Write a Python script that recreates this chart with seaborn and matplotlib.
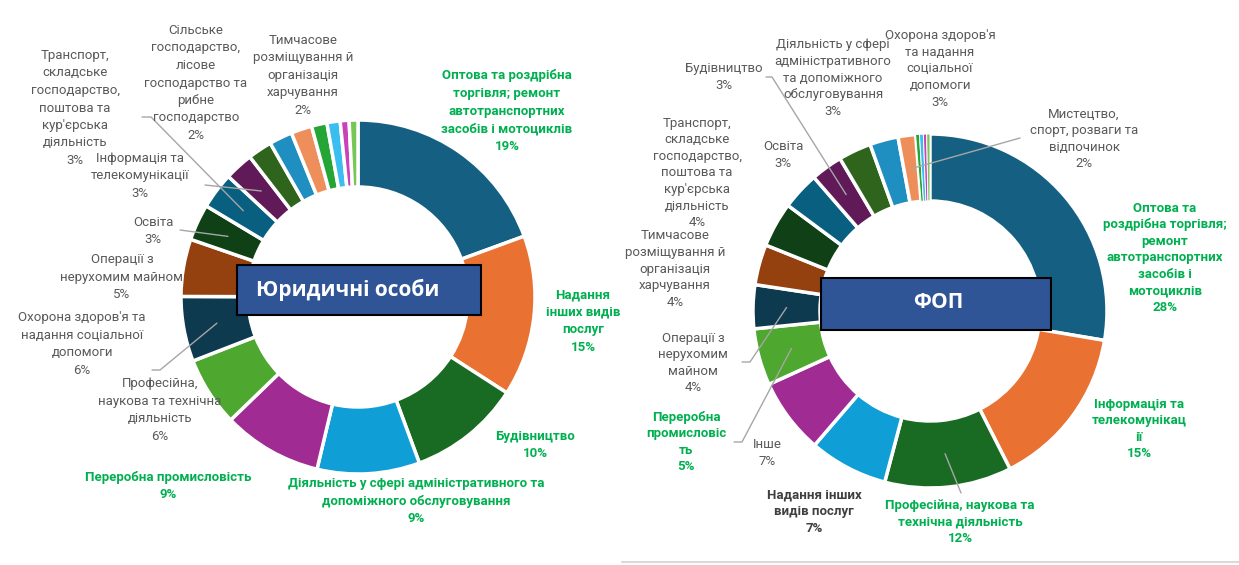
import numpy as np
import matplotlib
matplotlib.use("Agg")
import matplotlib.pyplot as plt
from matplotlib.patches import Rectangle
import seaborn as sns

W, H = 1239, 565

# Юридичні особи: clockwise from the top
legal_names = ["Оптова та роздрібна\nторгівля; ремонт\nавтотранспортних\nзасобів і мотоциклів",
               "Надання\nінших видів\nпослуг",
               "Будівництво",
               "Діяльність у сфері адміністративного та\nдопоміжного обслуговування",
               "Переробна промисловість",
               "Професійна,\nнаукова та технічна\nдіяльність",
               "Охорона здоров'я та\nнадання соціальної\nдопомоги",
               "Операції з\nнерухомим майном",
               "Освіта",
               "Транспорт,\nскладське\nгосподарство,\nпоштова та\nкур'єрська\nдіяльність",
               "Інформація та\nтелекомунікації",
               "Сільське\nгосподарство,\nлісове\nгосподарство та\nрибне\nгосподарство",
               "Тимчасове\nрозміщування й\nорганізація\nхарчування",
               "Мистецтво, спорт, розваги та відпочинок",
               "Фінансова та страхова діяльність",
               "Постачання електроенергії",
               "Добувна промисловість",
               "Інше"]
legal_values = [19.3, 14.6, 10.2, 9.3, 9.0, 6.3, 5.9, 5.2, 3.3, 3.3, 2.6, 2.2, 2.1,
                1.9, 1.4, 1.2, 0.8, 0.8]
legal_kind = ["g", "g", "g", "g", "g", "n", "n", "n", "n", "n", "n", "n", "n",
              None, None, None, None, None]

# ФОП: clockwise from the top
fop_names = ["Оптова та\nроздрібна торгівля;\nремонт\nавтотранспортних\nзасобів і\nмотоциклів",
             "Інформація та\nтелекомунікац\nії",
             "Професійна, наукова та\nтехнічна діяльність",
             "Надання інших\nвидів послуг",
             "Інше",
             "Переробна\nпромисловіс\nть",
             "Операції з\nнерухомим\nмайном",
             "Тимчасове\nрозміщування й\nорганізація\nхарчування",
             "Транспорт,\nскладське\nгосподарство,\nпоштова та\nкур'єрська\nдіяльність",
             "Освіта",
             "Будівництво",
             "Діяльність у сфері\nадміністративного\nта допоміжного\nобслуговування",
             "Охорона здоров'я\nта надання\nсоціальної\nдопомоги",
             "Мистецтво,\nспорт, розваги та\nвідпочинок",
             "Сільське господарство",
             "Фінансова та страхова діяльність",
             "Постачання електроенергії",
             "Добувна промисловість"]
fop_values = [27.7, 14.9, 11.6, 7.2, 6.9, 5.2, 4.0, 3.7, 4.1, 3.45, 2.9, 3.0, 2.6, 1.6,
              0.35, 0.35, 0.3, 0.3]
fop_kind = ["g", "g", "g", "d", "n", "g", "n", "n", "n", "n", "n", "n", "n", "n",
            None, None, None, None]

palette = ["#156082", "#E97132", "#196B24", "#0F9ED5", "#A02B93", "#4EA72E",
           "#0D3A4E", "#94400F", "#0F4016", "#095F80", "#601A58", "#2F641C",
           "#1F8EC1", "#EE8F5B", "#24A536", "#3ABEF0", "#C842B8", "#79C658"]

# label centres in pixel coords (x, y from top)
legal_pos = {0: (507, 111), 1: (583, 321), 2: (535, 445), 3: (416, 501), 4: (168, 486),
             5: (160, 410), 6: (82, 344), 7: (122, 277), 8: (153, 231), 9: (75, 108),
             10: (140, 176), 11: (196, 83), 12: (303, 75)}
fop_pos = {0: (1165, 258), 1: (1139, 429), 2: (960, 522), 3: (814, 512), 4: (767, 453),
           5: (686, 442), 6: (693, 363), 7: (675, 269), 8: (697, 173), 9: (783, 155),
           10: (724, 77), 11: (833, 78), 12: (940, 69), 13: (1084, 139)}
# leader lines: slice index -> list of points before the wedge
legal_leaders = {9: [(142, 117), (151, 117)], 10: [(205, 185)], 8: [(180, 230)],
                 6: [(152, 370), (160, 370)]}
fop_leaders = {10: [(766, 77), (772, 77)], 13: [(1020, 138)], 6: [(742, 362), (750, 362)],
               5: [(734, 442), (742, 442)], 2: [(961, 493)]}

COLORS = {"g": "#00B050", "n": "#595959", "d": "#404040"}

sns.set_theme(style="white")
plt.rcParams['font.family'] = ['Roboto', 'DejaVu Sans']

fig = plt.figure(figsize=(W / 100, H / 100), dpi=100)
ax = fig.add_axes([0, 0, 1, 1])

R, RW = 177, 67


def donut(values, names, kinds, center, pos, leaders, spacing):
    cx, cy = center
    wedges, _ = ax.pie(values, colors=palette[:len(values)], startangle=90,
                       counterclock=False, radius=R, center=(cx, H - cy),
                       wedgeprops=dict(width=RW, edgecolor="white", linewidth=2.5))
    for w in wedges:
        # thin white gaps on the tiny slices so they stay visible
        if abs(w.theta2 - w.theta1) < 2:
            w.set_linewidth(0.7)
    total = sum(values)
    for i, (p, name, kind) in enumerate(zip(values, names, kinds)):
        if kind is None or i not in pos:
            continue
        pct = int(np.floor(p / total * 100 + 0.5))
        x, y = pos[i]
        ax.text(x, H - y, f"{name}\n{pct}%", ha="center", va="center",
                multialignment="center", fontsize=9.5, linespacing=spacing,
                color=COLORS[kind], fontweight="bold" if kind in "gd" else "normal",
                zorder=6)
    for i, pts in leaders.items():
        w = wedges[i]
        mid = np.deg2rad((w.theta1 + w.theta2) / 2)
        rr = R - RW / 2
        ex, ey = cx + rr * np.cos(mid), (H - cy) + rr * np.sin(mid)
        xs = [p[0] for p in pts] + [ex]
        ys = [H - p[1] for p in pts] + [ey]
        ax.plot(xs, ys, color="#A6A6A6", lw=1, zorder=4)


donut(legal_values, legal_names, legal_kind, (358, 297), legal_pos, legal_leaders, 1.45)
donut(fop_values, fop_names, fop_kind, (930, 311), fop_pos, fop_leaders, 1.36)

# title boxes
ax.add_patch(Rectangle((237, H - 315), 244, 50, facecolor="#2F5597", edgecolor="black",
                       lw=1.5, zorder=7))
ax.text(256, H - 290, "Юридичні особи", ha="left", va="center", color="white",
        fontsize=15, fontweight="bold", family=["Open Sans", "DejaVu Sans"], zorder=8)
ax.add_patch(Rectangle((821, H - 330), 230, 52, facecolor="#2F5597", edgecolor="black",
                       lw=1.5, zorder=7))
ax.text(938, H - 303, "ФОП", ha="center", va="center", color="white",
        fontsize=15, fontweight="bold", family=["Open Sans", "DejaVu Sans"], zorder=8)

ax.plot([622, W], [H - 562, H - 562], color="#D9D9D9", lw=1.5)

ax.set_xlim(0, W)
ax.set_ylim(0, H)
ax.set_aspect("equal")
ax.axis("off")

fig.savefig("out.png", dpi=100, facecolor="white")
